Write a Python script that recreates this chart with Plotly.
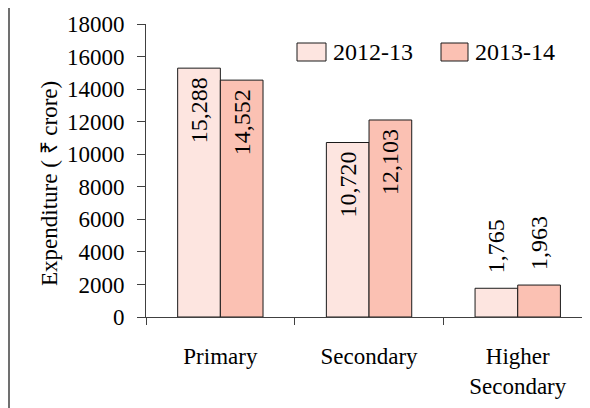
import plotly.graph_objects as go

# data
levels = ["Primary", "Secondary", "Higher<br>Secondary"]
exp_2012_13 = [15288, 10720, 1765]
exp_2013_14 = [14552, 12103, 1963]
series_names = ["2012-13", "2013-14"]
y_ticks = [0, 2000, 4000, 6000, 8000, 10000, 12000, 14000, 16000, 18000]

colors = ["#FDE5E0", "#FBC1B3"]
FONT = "Liberation Serif, Times New Roman, serif"

# the page puts the figure 8px in from the top-left corner
OFF = 8
W, H = 590 - OFF, 408 - OFF
L, R, T, B = 138, 0, 16, 91
pw, ph = W - L - R, H - T - B


def px(x):
    # page pixel -> paper x
    return (x - OFF - L) / pw


def py(y):
    # page pixel -> paper y
    return (H - B - (y - OFF)) / ph


def label_pos(v):
    # tall bars get the label inside, short ones above
    return "inside" if v > 5000 else "outside"


def label_text(v):
    s = f"{v:,}"
    return s + "\u00a0" if v > 5000 else "\u00a0\u00a0" + s


fig = go.Figure()
for name, vals, col in zip(series_names, [exp_2012_13, exp_2013_14], colors):
    fig.add_trace(go.Bar(
        x=levels, y=vals, name=name,
        marker=dict(color=col, line=dict(color="#1a1a1a", width=1)),
        text=[label_text(v) for v in vals],
        textposition=[label_pos(v) for v in vals],
        textangle=-90,
        insidetextanchor="end",
        constraintext="none",
        cliponaxis=False,
        textfont=dict(family=FONT, size=24, color="black"),
        showlegend=False,
    ))

# legend drawn by hand so the swatches match the original size
legend_boxes = [(297, 326), (441, 468)]
for (x0, x1), name, col in zip(legend_boxes, series_names, colors):
    fig.add_shape(type="rect", xref="paper", yref="paper",
                  x0=px(x0), x1=px(x1), y0=py(61), y1=py(43),
                  fillcolor=col, line=dict(color="#1a1a1a", width=1))
    fig.add_annotation(xref="paper", yref="paper", x=px(x1 + 5), y=py(52),
                       text=name, showarrow=False, xanchor="left", yanchor="middle",
                       font=dict(family=FONT, size=24, color="black"))

# y axis title
fig.add_annotation(xref="paper", yref="paper", x=px(49), y=py(184),
                   text="Expenditure ( ₹ crore)", textangle=-90, showarrow=False,
                   xanchor="center", yanchor="middle",
                   font=dict(family=FONT, size=23, color="black"))

# left frame edge
fig.add_shape(type="line", xref="paper", yref="paper",
              x0=px(9), x1=px(9), y0=py(420), y1=py(0),
              line=dict(color="#404040", width=1.5))

fig.update_layout(
    width=W, height=H,
    margin=dict(l=L, r=R, t=T, b=B),
    paper_bgcolor="white", plot_bgcolor="white",
    barmode="group", bargap=0.426, bargroupgap=0,
    font=dict(family=FONT, color="black"),
)
fig.update_xaxes(
    range=[-0.5, 2.486], showline=True, linecolor="#404040", linewidth=1,
    ticks="outside", tickson="boundaries", ticklen=7, tickcolor="#404040",
    tickfont=dict(family=FONT, size=23, color="black"),
    ticklabelstandoff=18, showgrid=False, zeroline=False,
)
fig.update_yaxes(
    range=[0, 18000], tickvals=y_ticks, ticktext=[str(v) for v in y_ticks],
    showline=True, linecolor="#404040", linewidth=1,
    ticks="outside", ticklen=8, tickcolor="#404040",
    tickfont=dict(family=FONT, size=23, color="black"),
    ticklabelstandoff=8, showgrid=False, zeroline=False,
)

fig.write_html("out.html")
